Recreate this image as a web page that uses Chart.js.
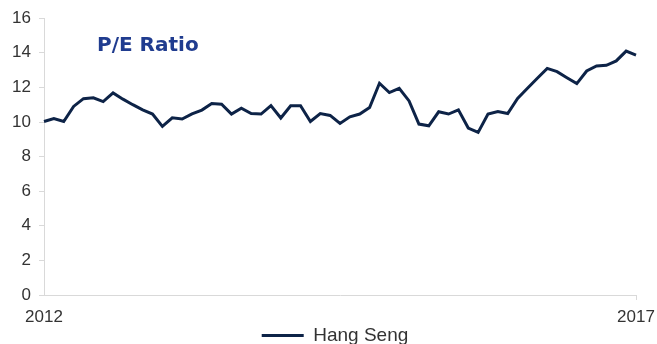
<!DOCTYPE html>
<html>
<head>
<meta charset="utf-8">
<script src="https://cdn.jsdelivr.net/npm/chart.js@4.4.1/dist/chart.umd.min.js"></script>
<style>
  html, body { margin: 0; padding: 0; background: #ffffff; }
  #wrap { position: relative; width: 657px; height: 344px; }
  #title { position: absolute; left: 97px; top: 32px; font: bold 20px "DejaVu Sans", Verdana, sans-serif; color: #203c8f; white-space: nowrap; }
</style>
</head>
<body>
<div id="wrap">
  <canvas id="c" width="657" height="344"></canvas>
  <div id="title">P/E Ratio</div>
</div>
<script>
const seriesName = "Hang Seng";
const chartTitle = "P/E Ratio";
const firstLabel = "2012";
const lastLabel = "2017";
// Monthly points, Jan 2012 .. Jan 2017
const months = [];
for (let y = 2012; y <= 2017; y++) {
  for (let m = 1; m <= 12; m++) {
    if (y === 2017 && m > 1) break;
    months.push(y + "-" + String(m).padStart(2, "0"));
  }
}
const peValues = [
  10.03, 10.20, 10.03, 10.90, 11.35, 11.40, 11.18, 11.68, 11.32, 11.00,
  10.70, 10.46, 9.75, 10.24, 10.17, 10.47, 10.69, 11.07, 11.03, 10.46,
  10.80, 10.49, 10.46, 10.95, 10.23, 10.94, 10.94, 10.03, 10.49, 10.38,
  9.92, 10.30, 10.46, 10.84, 12.24, 11.70, 11.95, 11.22, 9.88, 9.78,
  10.59, 10.46, 10.70, 9.65, 9.40, 10.46, 10.61, 10.49, 11.36, 11.95,
  12.53, 13.10, 12.91, 12.56, 12.22, 12.95, 13.24, 13.28, 13.53, 14.10,
  13.87
];
const yTicks = [0, 2, 4, 6, 8, 10, 12, 14, 16];

document.getElementById("title").textContent = chartTitle;

const lineColor = "#0d2347";
const axisColor = "#d9d9d9";
const textColor = "#333333";

new Chart(document.getElementById("c"), {
  type: "line",
  data: {
    labels: months,
    datasets: [{
      label: seriesName,
      data: peValues,
      borderColor: lineColor,
      backgroundColor: lineColor,
      borderWidth: 3,
      pointRadius: 0,
      tension: 0,
      fill: false
    }]
  },
  options: {
    responsive: false,
    animation: false,
    layout: { padding: { left: 13, right: 0, top: 17, bottom: -11 } },
    plugins: {
      tooltip: { enabled: false },
      legend: {
        position: "bottom",
        labels: {
          usePointStyle: true,
          pointStyle: "line",
          pointStyleWidth: 42,
          color: textColor,
          font: { family: "'Liberation Sans', Arial, sans-serif", size: 19, lineHeight: 1 },
          padding: 0
        }
      }
    },
    scales: {
      x: {
        type: "category",
        offset: false,
        afterFit: (s) => { s.height = 31; s.paddingRight = 21; s.paddingLeft = 0; },
        border: { display: true, color: axisColor, width: 1 },
        grid: {
          display: true,
          drawOnChartArea: false,
          drawTicks: true,
          tickLength: 5,
          tickColor: (ctx) => (ctx.index === months.length - 1 ? axisColor : "rgba(0,0,0,0)")
        },
        ticks: {
          autoSkip: false,
          maxRotation: 0,
          minRotation: 0,
          padding: 9,
          color: textColor,
          font: { family: "'Liberation Sans', Arial, sans-serif", size: 17, lineHeight: 1 },
          callback: (v, i) => (i === 0 ? firstLabel : (i === months.length - 1 ? lastLabel : ""))
        }
      },
      y: {
        min: 0,
        max: 16,
        afterFit: (s) => { s.width = 31; },
        afterBuildTicks: (s) => { s.ticks = yTicks.map(v => ({ value: v })); },
        border: { display: true, color: axisColor, width: 1 },
        grid: {
          display: true,
          drawOnChartArea: false,
          drawTicks: true,
          tickLength: 5,
          tickColor: axisColor
        },
        ticks: {
          padding: 8,
          color: textColor,
          font: { family: "'Liberation Sans', Arial, sans-serif", size: 17 }
        }
      }
    }
  }
});
</script>
</body>
</html>
